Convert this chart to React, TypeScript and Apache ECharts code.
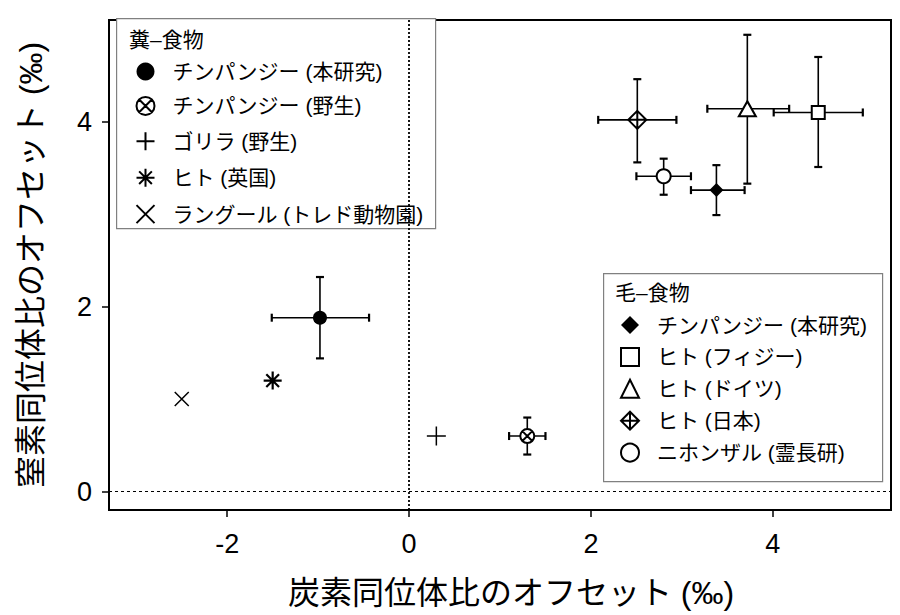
import { useEffect, useRef } from 'react'
import * as echarts from 'echarts'

// 糞–食物
const fecalNames = ['チンパンジー (本研究)', 'チンパンジー (野生)', 'ゴリラ (野生)', 'ヒト (英国)', 'ラングール (トレド動物園)']
const fecalX = [-0.98, 1.3, 0.3, -1.5, -2.5]
const fecalY = [1.88, 0.6, 0.6, 1.2, 1.0]
const fecalXLo = [-1.51, 1.1, null, null, null]
const fecalXHi = [-0.44, 1.5, null, null, null]
const fecalYLo = [1.44, 0.4, null, null, null]
const fecalYHi = [2.32, 0.8, null, null, null]

// 毛–食物
const hairNames = ['チンパンジー (本研究)', 'ヒト (フィジー)', 'ヒト (ドイツ)', 'ヒト (日本)', 'ニホンザル (霊長研)']
const hairX = [3.38, 4.5, 3.72, 2.51, 2.8]
const hairY = [3.26, 4.1, 4.14, 4.02, 3.41]
const hairXLo = [3.1, 4.01, 3.28, 2.08, 2.5]
const hairXHi = [3.69, 4.99, 4.18, 2.94, 3.1]
const hairYLo = [2.99, 3.51, 3.33, 3.56, 3.21]
const hairYHi = [3.53, 4.7, 4.94, 4.46, 3.6]

const xTicks = [-2, 0, 2, 4]
const yTicks = [0, 2, 4]

const FONT = "'Liberation Sans', 'Noto Sans CJK JP', sans-serif"

const P_OTIMES = 'path://M10,0 A10,10 0 1 1 10,20 A10,10 0 1 1 10,0 Z M2.93,2.93 L17.07,17.07 M17.07,2.93 L2.93,17.07'
const P_PLUS = 'path://M10,0 L10,20 M0,10 L20,10'
const P_STAR = 'path://M10,0 L10,20 M0,10 L20,10 M2.93,2.93 L17.07,17.07 M17.07,2.93 L2.93,17.07'
const P_CROSS = 'path://M0,0 L20,20 M20,0 L0,20'
const P_DIAMOND_PLUS = 'path://M10,0 L20,10 L10,20 L0,10 Z M10,0 L10,20 M0,10 L20,10'

const open = { color: '#fff', borderColor: '#000', borderWidth: 2, opacity: 1 }
const solid = { color: '#000', borderColor: '#000', borderWidth: 0, opacity: 1 }
const stroke = (w: number) => ({ color: 'none', borderColor: '#000', borderWidth: w, opacity: 1 })

const fecalMarks = [
  { symbol: 'circle', size: 14, style: solid },
  { symbol: P_OTIMES, size: 14, style: open },
  { symbol: P_PLUS, size: 19, style: stroke(1.5) },
  { symbol: P_STAR, size: 18, style: stroke(2.2) },
  { symbol: P_CROSS, size: 14, style: stroke(1.5) },
]
const hairMarks = [
  { symbol: 'diamond', size: 14, style: solid },
  { symbol: 'rect', size: 13, style: open },
  { symbol: 'triangle', size: [17, 15], style: open },
  { symbol: P_DIAMOND_PLUS, size: 18, style: open },
  { symbol: 'circle', size: 14, style: open },
]

function errRows(x: number[], y: number[], xl: any[], xh: any[], yl: any[], yh: any[]) {
  const rows: number[][] = []
  x.forEach((v, i) => {
    if (xl[i] != null) rows.push([v, y[i], xl[i], xh[i], yl[i], yh[i]])
  })
  return rows
}

function renderErr(_params: any, api: any) {
  const x = api.value(0), y = api.value(1)
  const l = api.coord([api.value(2), y])
  const r = api.coord([api.value(3), y])
  const b = api.coord([x, api.value(4)])
  const t = api.coord([x, api.value(5)])
  const c = 4
  const main = { stroke: '#000', lineWidth: 1.6 }
  const cap = { stroke: '#000', lineWidth: 2.2 }
  const ln = (x1: number, y1: number, x2: number, y2: number, style: any) => ({ type: 'line', shape: { x1, y1, x2, y2 }, style })
  return {
    type: 'group',
    children: [
      ln(l[0], l[1], r[0], r[1], main),
      ln(b[0], b[1], t[0], t[1], main),
      ln(l[0], l[1] - c, l[0], l[1] + c, cap),
      ln(r[0], r[1] - c, r[0], r[1] + c, cap),
      ln(b[0] - c, b[1], b[0] + c, b[1], cap),
      ln(t[0] - c, t[1], t[0] + c, t[1], cap),
    ],
  }
}

export default function App() {
  const ref = useRef<HTMLDivElement>(null)

  useEffect(() => {
    if (!ref.current) return
    const chart = echarts.init(ref.current, null, { renderer: 'svg' })

    const scatter = (prefix: string, names: string[], xs: number[], ys: number[], marks: any[]) =>
      names.map((n, i) => ({
        type: 'scatter',
        name: prefix + n,
        data: [[xs[i], ys[i]]],
        symbol: marks[i].symbol,
        symbolSize: marks[i].size,
        itemStyle: marks[i].style,
        z: 4,
        silent: true,
      }))

    const legendBase = {
      orient: 'vertical',
      itemWidth: 18,
      itemHeight: 18,
      padding: 0,
      selectedMode: false,
      formatter: (n: string) => n.slice(2),
      textStyle: { fontSize: 21, color: '#000', fontFamily: FONT, padding: [0, 0, 0, 13] },
      z: 6,
    }

    chart.setOption({
      animation: false,
      backgroundColor: '#fff',
      textStyle: { fontFamily: FONT },
      grid: { left: 109, right: 9, top: 20, bottom: 105, show: true, borderColor: '#000', borderWidth: 2, backgroundColor: '#fff' },
      xAxis: {
        type: 'value', min: -3.3, max: 5.3,
        name: '炭素同位体比のオフセット (‰)', nameLocation: 'middle', nameGap: 67,
        nameTextStyle: { fontSize: 32, color: '#000', fontFamily: FONT, padding: [0, 0, 0, 22] },
        axisLine: { onZero: false, lineStyle: { color: '#000', width: 2 } },
        axisTick: { length: 7, lineStyle: { color: '#000', width: 1.5 }, customValues: xTicks },
        axisLabel: { fontSize: 27, color: '#000', margin: 20, customValues: xTicks },
        splitLine: { show: false },
      },
      yAxis: {
        type: 'value', min: -0.2, max: 5.1,
        name: '窒素同位体比のオフセット (‰)', nameLocation: 'middle', nameGap: 62,
        nameTextStyle: { fontSize: 32, color: '#000', fontFamily: FONT },
        axisLine: { onZero: false, lineStyle: { color: '#000', width: 2 } },
        axisTick: { length: 7, lineStyle: { color: '#000', width: 1.5 }, customValues: yTicks },
        axisLabel: { fontSize: 27, color: '#000', margin: 17, customValues: yTicks },
        splitLine: { show: false },
      },
      legend: [
        { ...legendBase, data: fecalNames.map(n => '糞:' + n), left: 134, top: 61, itemGap: 13.4 },
        { ...legendBase, data: hairNames.map(n => '毛:' + n), left: 620, top: 314.5, itemGap: 10.9 },
      ],
      graphic: [
        { type: 'rect', left: 116, top: 18, shape: { width: 319, height: 210 }, style: { fill: '#fff', stroke: '#808080', lineWidth: 1.2 }, z: 5 },
        { type: 'text', left: 129, top: 29, style: { text: '糞–食物', fontSize: 21, fontFamily: FONT, fill: '#000' }, z: 7 },
        { type: 'rect', left: 603, top: 273, shape: { width: 279, height: 208 }, style: { fill: '#fff', stroke: '#808080', lineWidth: 1.2 }, z: 5 },
        { type: 'text', left: 615, top: 282, style: { text: '毛–食物', fontSize: 21, fontFamily: FONT, fill: '#000' }, z: 7 },
      ],
      series: [
        {
          type: 'scatter', data: [], silent: true, z: 1,
          markLine: {
            silent: true, symbol: ['none', 'none'], label: { show: false },
            data: [
              { xAxis: 0, lineStyle: { color: '#000', width: 1.8, type: [2, 2] } },
              { yAxis: 0, lineStyle: { color: '#000', width: 1, type: [3, 3] } },
            ],
          },
        },
        { type: 'custom', renderItem: renderErr, data: errRows(fecalX, fecalY, fecalXLo, fecalXHi, fecalYLo, fecalYHi), encode: { x: 0, y: 1 }, z: 2, silent: true },
        { type: 'custom', renderItem: renderErr, data: errRows(hairX, hairY, hairXLo, hairXHi, hairYLo, hairYHi), encode: { x: 0, y: 1 }, z: 2, silent: true },
        ...scatter('糞:', fecalNames, fecalX, fecalY, fecalMarks),
        ...scatter('毛:', hairNames, hairX, hairY, hairMarks),
      ],
    })

    return () => chart.dispose()
  }, [])

  return <div ref={ref} style={{ position: 'absolute', left: 0, top: 0, width: 900, height: 615 }} />
}
